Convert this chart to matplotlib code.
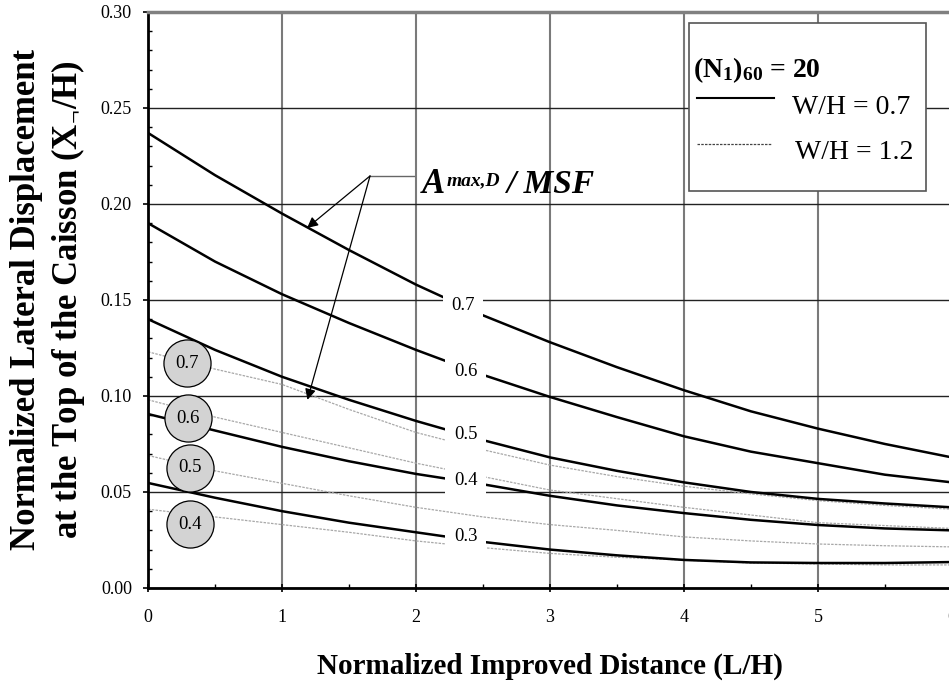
import matplotlib
matplotlib.use('Agg')
import matplotlib.pyplot as plt
from matplotlib.patches import Rectangle
from matplotlib.ticker import MultipleLocator

plt.rcParams['font.family'] = 'Liberation Serif'
plt.rcParams['mathtext.fontset'] = 'custom'
plt.rcParams['mathtext.rm'] = 'Liberation Serif'
plt.rcParams['mathtext.bf'] = 'Liberation Serif:bold'
plt.rcParams['mathtext.it'] = 'Liberation Serif:italic'

# normalized improved distance L/H
x_vals = [0, 0.5, 1, 1.5, 2, 2.5, 3, 3.5, 4, 4.5, 5, 5.5, 6]

# W/H = 0.7 (solid black), keyed by Amax,D/MSF
wh07_levels = ['0.7', '0.6', '0.5', '0.4', '0.3']
wh07_curves = [
    [0.237, 0.215, 0.195, 0.176, 0.158, 0.142, 0.128, 0.115, 0.103, 0.092, 0.083, 0.075, 0.068],
    [0.190, 0.170, 0.153, 0.138, 0.124, 0.111, 0.0995, 0.089, 0.079, 0.071, 0.065, 0.059, 0.055],
    [0.140, 0.124, 0.110, 0.098, 0.087, 0.077, 0.068, 0.061, 0.055, 0.050, 0.0464, 0.044, 0.042],
    [0.0906, 0.082, 0.0735, 0.066, 0.0594, 0.054, 0.048, 0.043, 0.039, 0.0355, 0.0328, 0.031, 0.030],
    [0.0547, 0.047, 0.040, 0.034, 0.029, 0.024, 0.020, 0.017, 0.0146, 0.0133, 0.013, 0.013, 0.0135],
]
wh07_label_x = [2.35, 2.37, 2.37, 2.37, 2.37]
wh07_label_y = [0.147, 0.1125, 0.080, 0.056, 0.027]

# W/H = 1.2 (thin grey dotted)
wh12_levels = ['0.7', '0.6', '0.5', '0.4']
wh12_curves = [
    [0.123, 0.114, 0.106, 0.093, 0.081, 0.072, 0.064, 0.058, 0.053, 0.049, 0.0455, 0.043, 0.041],
    [0.098, 0.089, 0.081, 0.073, 0.065, 0.058, 0.051, 0.0465, 0.042, 0.038, 0.034, 0.0325, 0.031],
    [0.069, 0.061, 0.0545, 0.048, 0.042, 0.037, 0.033, 0.030, 0.0266, 0.0245, 0.0229, 0.022, 0.0214],
    [0.041, 0.037, 0.033, 0.029, 0.0245, 0.021, 0.018, 0.016, 0.0145, 0.013, 0.0125, 0.012, 0.012],
]
wh12_label_x = [0.29, 0.30, 0.31, 0.31]
wh12_label_y = [0.117, 0.0885, 0.0625, 0.0333]

fig = plt.figure(figsize=(9.49, 6.84), dpi=100)
ax = fig.add_axes([0.156, 0.1404, 0.847, 0.8421])

ax.set_xlim(0, 6)
ax.set_ylim(0, 0.30)

# grid: black horizontals, grey verticals
ax.yaxis.grid(True, color='#222222', lw=1.0, zorder=0)
ax.xaxis.grid(True, color='#7a7a7a', lw=1.5, zorder=0)
ax.set_axisbelow(True)

for ys in wh12_curves:
    ax.plot(x_vals, ys, color='#a8a8a8', lw=0.9, ls=(0, (2, 1)), zorder=2)
for ys in wh07_curves:
    ax.plot(x_vals, ys, color='black', lw=1.8, zorder=3)

# inline labels for the solid curves (white box breaks the line)
for lx, ly, t in zip(wh07_label_x, wh07_label_y, wh07_levels):
    ax.text(lx, ly, t, fontsize=13.5, ha='center', va='center', zorder=5,
            bbox=dict(boxstyle='square,pad=0.45', fc='white', ec='none'))

# grey circles for the dotted curves
ax.scatter(wh12_label_x, wh12_label_y, s=1150, facecolor='#d3d3d3',
           edgecolor='black', lw=0.9, zorder=6)
for lx, ly, t in zip(wh12_label_x, wh12_label_y, wh12_levels):
    ax.text(lx, ly, t, fontsize=13.5, ha='center', va='center', zorder=7)

# Amax,D / MSF callout
ax.plot([1.657, 1.985], [0.2146, 0.2146], color='#666666', lw=1.0, zorder=4)
for tip in [(1.187, 0.1875), (1.19, 0.098)]:
    ax.annotate('', xy=tip, xytext=(1.657, 0.2146), zorder=4,
                arrowprops=dict(arrowstyle='-|>', color='black', lw=0.9,
                                shrinkA=0, shrinkB=0, mutation_scale=16))
ax.text(2.045, 0.2057, 'A', fontsize=25, fontweight='bold', fontstyle='italic',
        va='baseline', zorder=5)
ax.text(2.231, 0.2099, 'max,D', fontsize=14, fontweight='bold', fontstyle='italic',
        va='baseline', zorder=5)
ax.text(2.672, 0.2057, '/ MSF', fontsize=24, fontweight='bold', fontstyle='italic',
        va='baseline', zorder=5)

# legend box
ax.add_patch(Rectangle((4.04, 0.207), 1.77, 0.087, fc='white', ec='#555555',
                       lw=1.2, zorder=8))
ax.text(4.07, 0.266, r'(N$_\mathbf{1}$)$_\mathbf{60}$ = 20', fontsize=20,
        fontweight='bold', va='baseline', zorder=9)
ax.plot([4.10, 4.67], [0.255, 0.255], color='black', lw=1.5, zorder=9)
ax.text(4.81, 0.250, 'W/H = 0.7', fontsize=20, va='center', zorder=9)
ax.plot([4.10, 4.65], [0.231, 0.231], color='#444444', lw=0.9,
        ls=(0, (2, 1)), zorder=9)
ax.text(4.83, 0.2266, 'W/H = 1.2', fontsize=20, va='center', zorder=9)

# ticks
ax.xaxis.set_major_locator(MultipleLocator(1))
ax.xaxis.set_minor_locator(MultipleLocator(0.5))
ax.yaxis.set_major_locator(MultipleLocator(0.05))
ax.yaxis.set_minor_locator(MultipleLocator(0.01))
ax.yaxis.set_major_formatter(plt.FormatStrFormatter('%.2f'))
ax.tick_params(axis='x', which='major', direction='inout', length=6, width=1.2,
               pad=12, labelsize=13)
ax.tick_params(axis='x', which='minor', direction='in', length=3, width=1)
ax.tick_params(axis='y', which='major', direction='out', length=3.6, width=1.2,
               pad=8, labelsize=13)
ax.tick_params(axis='y', which='minor', direction='in', length=3, width=1)

for side in ['left', 'bottom']:
    ax.spines[side].set_color('black')
    ax.spines[side].set_linewidth(2)
ax.spines['top'].set_color('#808080')
ax.spines['top'].set_linewidth(2.5)
ax.spines['right'].set_visible(False)

ax.set_xlabel('Normalized Improved Distance (L/H)', fontsize=21,
              fontweight='bold', labelpad=19)
ax.set_ylabel('Normalized Lateral Displacement\n'
              r'at the Top of the Caisson (X$_{\mathbf{\neg}}$/H)',
              fontsize=25, fontweight='bold', labelpad=10)

fig.savefig('out.png', dpi=100)
